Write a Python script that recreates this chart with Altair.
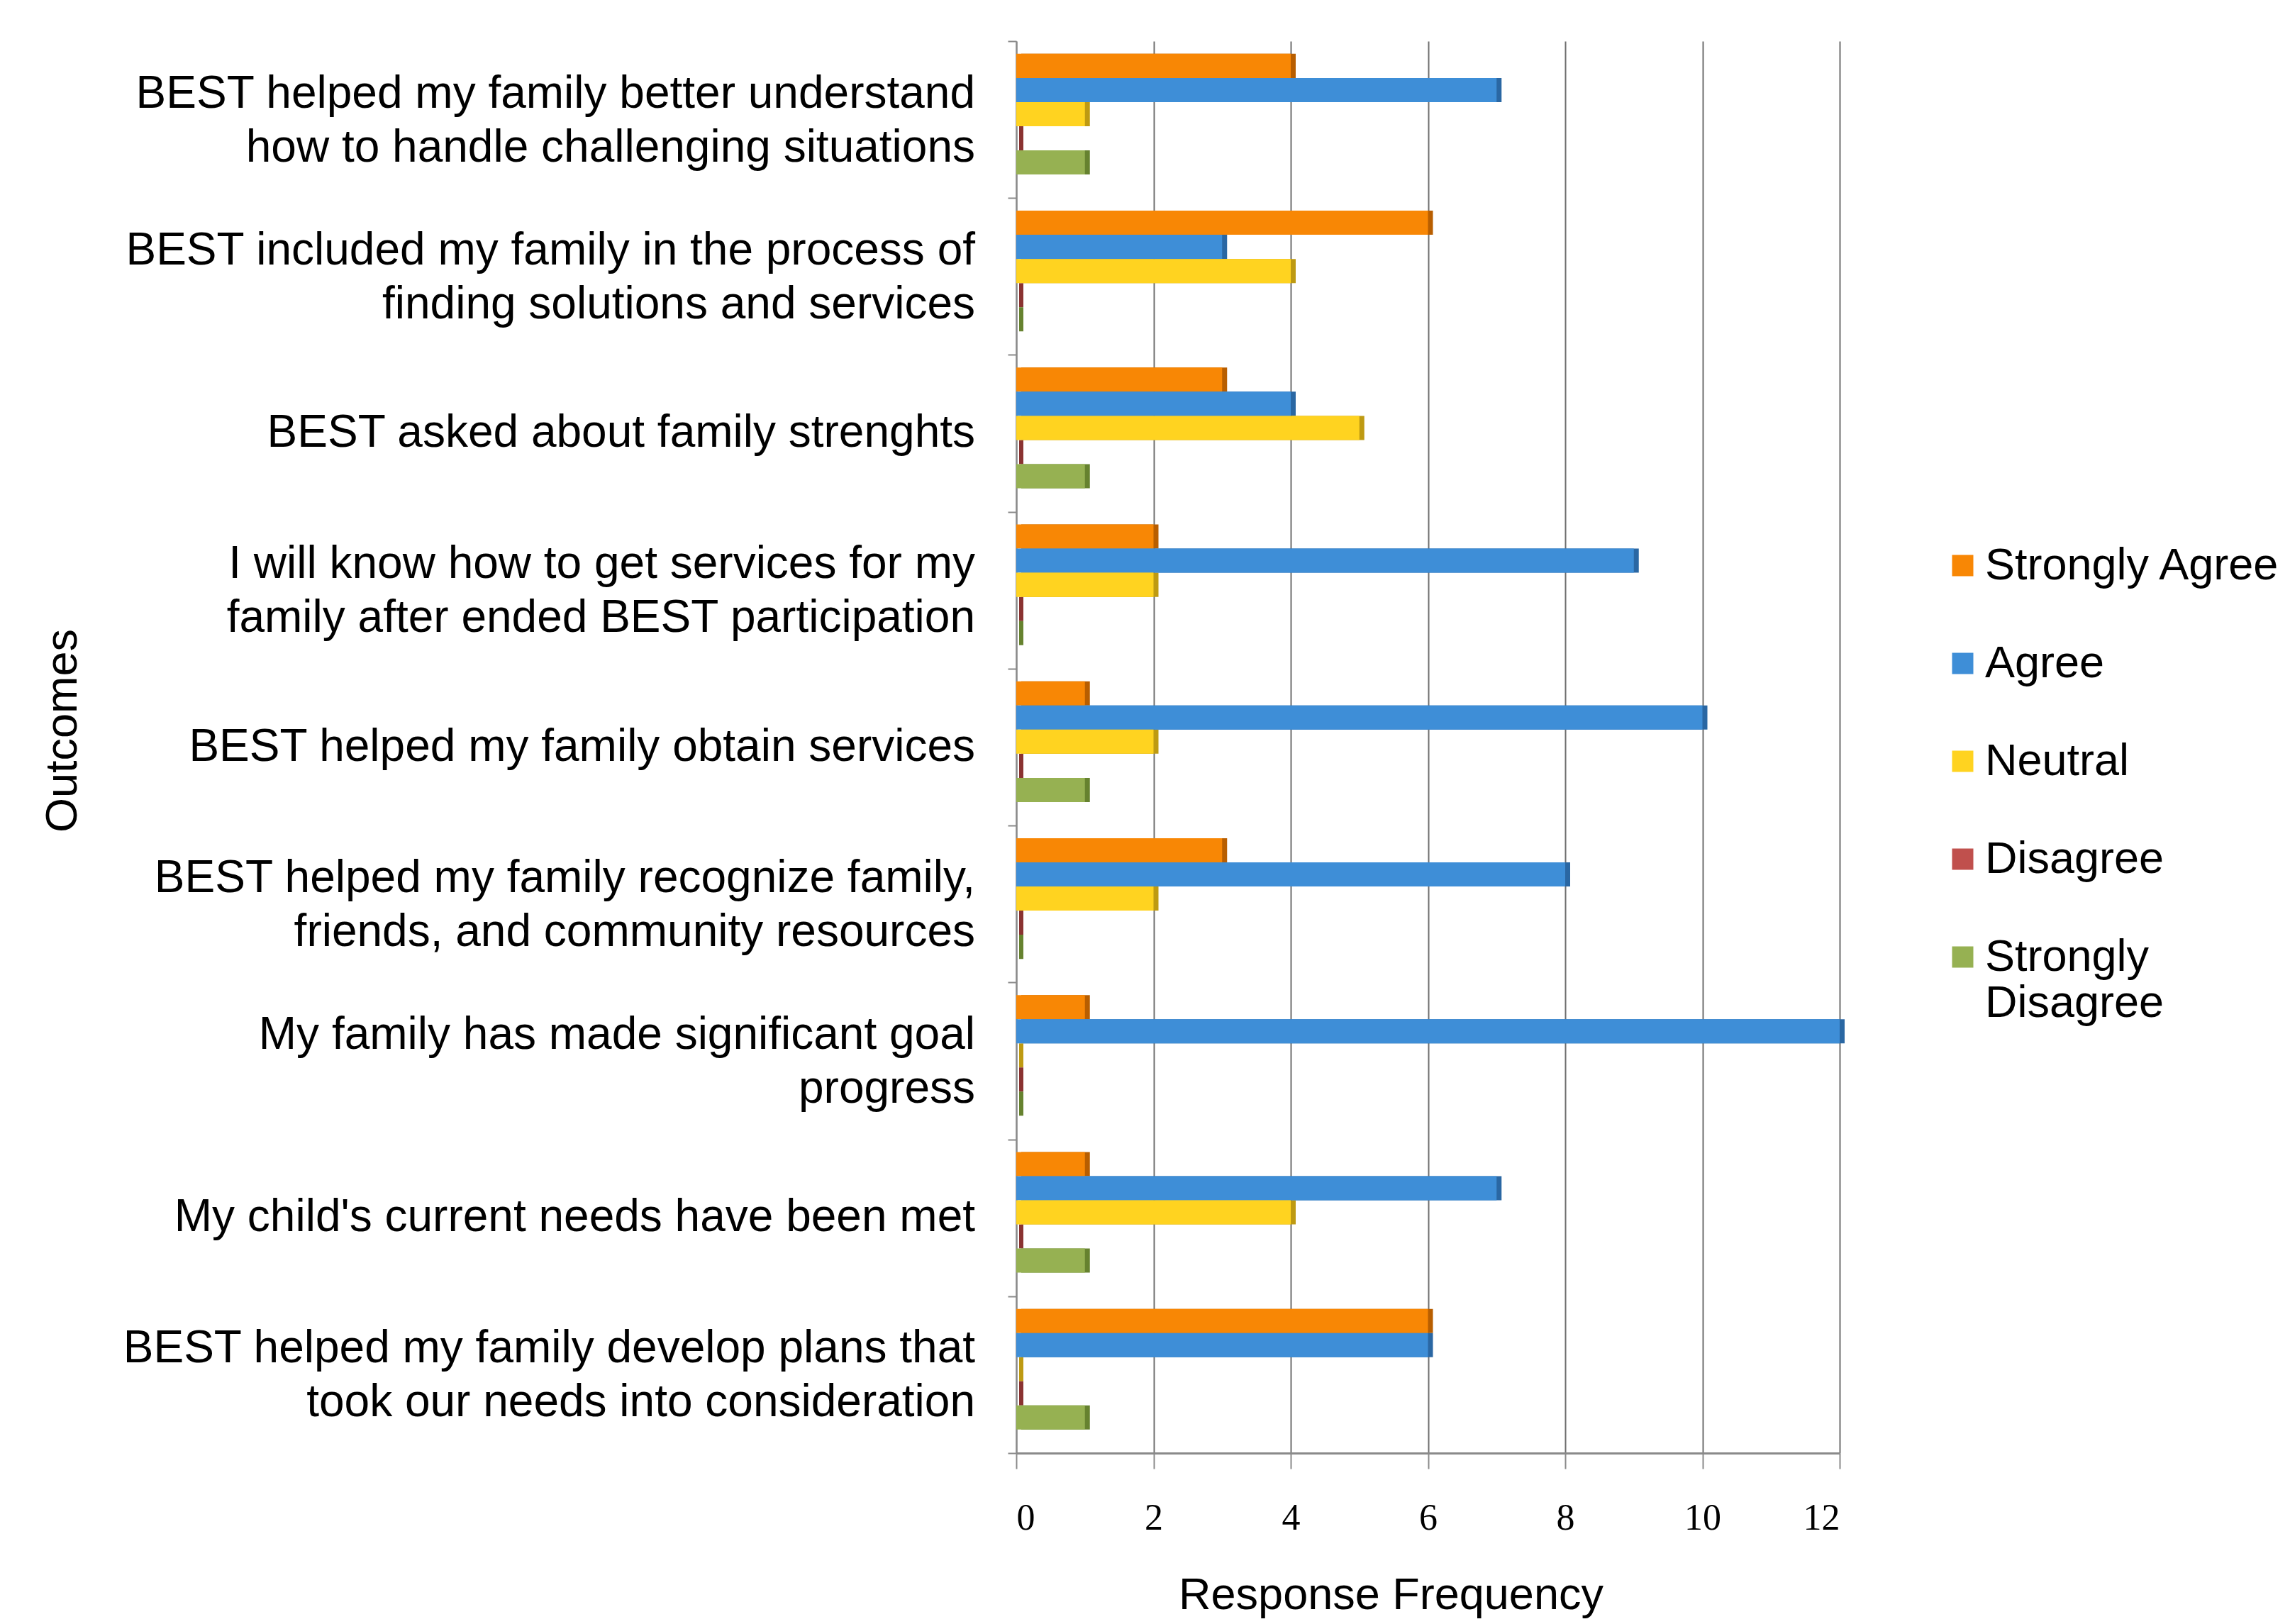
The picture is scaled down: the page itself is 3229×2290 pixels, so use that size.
import altair as alt
import pandas as pd

categories = [
    "BEST helped my family better understand\nhow to handle challenging situations",
    "BEST included my family in the process of\nfinding solutions and services",
    "BEST asked about family strenghts",
    "I will know how to get services for my\nfamily after ended BEST participation",
    "BEST helped my family obtain services",
    "BEST helped my family recognize family,\nfriends, and community resources",
    "My family has made significant goal\nprogress",
    "My child's current needs have been met",
    "BEST helped my family develop plans that\ntook our needs into consideration",
]
series = ["Strongly Agree", "Agree", "Neutral", "Disagree", "Strongly Disagree"]
strongly_agree = [4, 6, 3, 2, 1, 3, 1, 1, 6]
agree = [7, 3, 4, 9, 10, 8, 12, 7, 6]
neutral = [1, 4, 5, 2, 2, 2, 0, 4, 0]
disagree = [0, 0, 0, 0, 0, 0, 0, 0, 0]
strongly_disagree = [1, 0, 1, 0, 1, 0, 0, 1, 1]
x_ticks = [0, 2, 4, 6, 8, 10, 12]

front_colors = ["#F88705", "#3E8ED7", "#FFD320", "#C0504D", "#96B152"]
depth_colors = ["#B85E00", "#2A67A3", "#BE9A12", "#8A3331", "#66822F"]

values = [strongly_agree, agree, neutral, disagree, strongly_disagree]
rows = []
for s, dcol, vals in zip(series, depth_colors, values):
    for c, v in zip(categories, vals):
        rows.append({"outcome": c, "response": s, "value": v, "dcol": dcol})
df = pd.DataFrame(rows)
label_df = pd.DataFrame({"outcome": categories})

FONT = "Liberation Sans"

y_axis = alt.Axis(
    title="Outcomes",
    titleFont=FONT,
    titleFontSize=63,
    titleFontWeight="normal",
    titleColor="black",
    titleX=-1313,
    titleY=972,
    labels=False,
    tickBand="extent",
    tickSize=12,
    tickColor="#8a8a8a",
    tickWidth=2,
    domainColor="#8a8a8a",
    domainWidth=2,
    grid=False,
)
y_scale = alt.Scale(paddingInner=0, paddingOuter=0)

yoff_enc = alt.YOffset(
    "response:N",
    sort=series,
    scale=alt.Scale(paddingOuter=0.75, paddingInner=0, align=0.35),
)
x_enc = alt.X(
    "value:Q",
    scale=alt.Scale(domain=[0, 12], nice=False),
    axis=alt.Axis(
        title="Response Frequency",
        titleFont=FONT,
        titleFontSize=63,
        titleFontWeight="normal",
        titleColor="black",
        titlePadding=52,
        titleX=528,
        values=x_ticks,
        format="d",
        labelFont="Liberation Serif",
        labelFontSize=52,
        labelColor="black",
        labelPadding=44,
        ticks=True,
        tickSize=22,
        tickColor="#8a8a8a",
        tickWidth=2,
        domainColor="#8a8a8a",
        domainWidth=3,
        grid=True,
        gridColor="#6f6f6f",
        gridWidth=2,
    ),
)

base = alt.Chart(df).encode(
    y=alt.Y("outcome:N", sort=categories, scale=y_scale, axis=y_axis),
    yOffset=yoff_enc,
    x=x_enc,
)

depth = base.mark_bar(xOffset=7, yOffset=-7).encode(
    fill=alt.Fill("dcol:N", scale=None),
    stroke=alt.Stroke("dcol:N", scale=None),
    strokeWidth=alt.condition(alt.datum.value == 0, alt.value(6), alt.value(0)),
)

front = base.mark_bar().encode(
    color=alt.Color(
        "response:N",
        scale=alt.Scale(domain=series, range=front_colors),
        legend=alt.Legend(
            title=None,
            orient="none",
            legendX=1303,
            legendY=708,
            labelFont=FONT,
            labelFontSize=63,
            labelColor="black",
            labelLimit=2000,
            labelOffset=0,
            labelExpr="datum.label == 'Strongly Disagree' ? ['Strongly', 'Disagree'] : datum.label",
            symbolType="square",
            symbolSize=900,
            symbolStrokeWidth=0,
            rowPadding=74,
        ),
    )
)

labels = alt.Chart(label_df).mark_text(
    align="right",
    baseline="middle",
    lineBreak="\n",
    lineHeight=76,
    font=FONT,
    fontSize=64,
    color="black",
    dx=-58,
    dy=alt.expr("indexof(datum.outcome, '\\n') >= 0 ? -36 : 0"),
).encode(
    y=alt.Y("outcome:N", sort=categories, scale=y_scale, axis=y_axis),
    x=alt.datum(0),
    text="outcome:N",
)

chart = (
    alt.layer(depth, front, labels)
    .properties(
        width=1161,
        height=1991,
        autosize=alt.AutoSizeParams(type="none"),
        padding={"left": 1433, "top": 58, "right": 635, "bottom": 241},
        background="white",
    )
    .configure_view(stroke=None)
)

chart.save("out.html", embed_options={"renderer": "svg", "actions": False})
